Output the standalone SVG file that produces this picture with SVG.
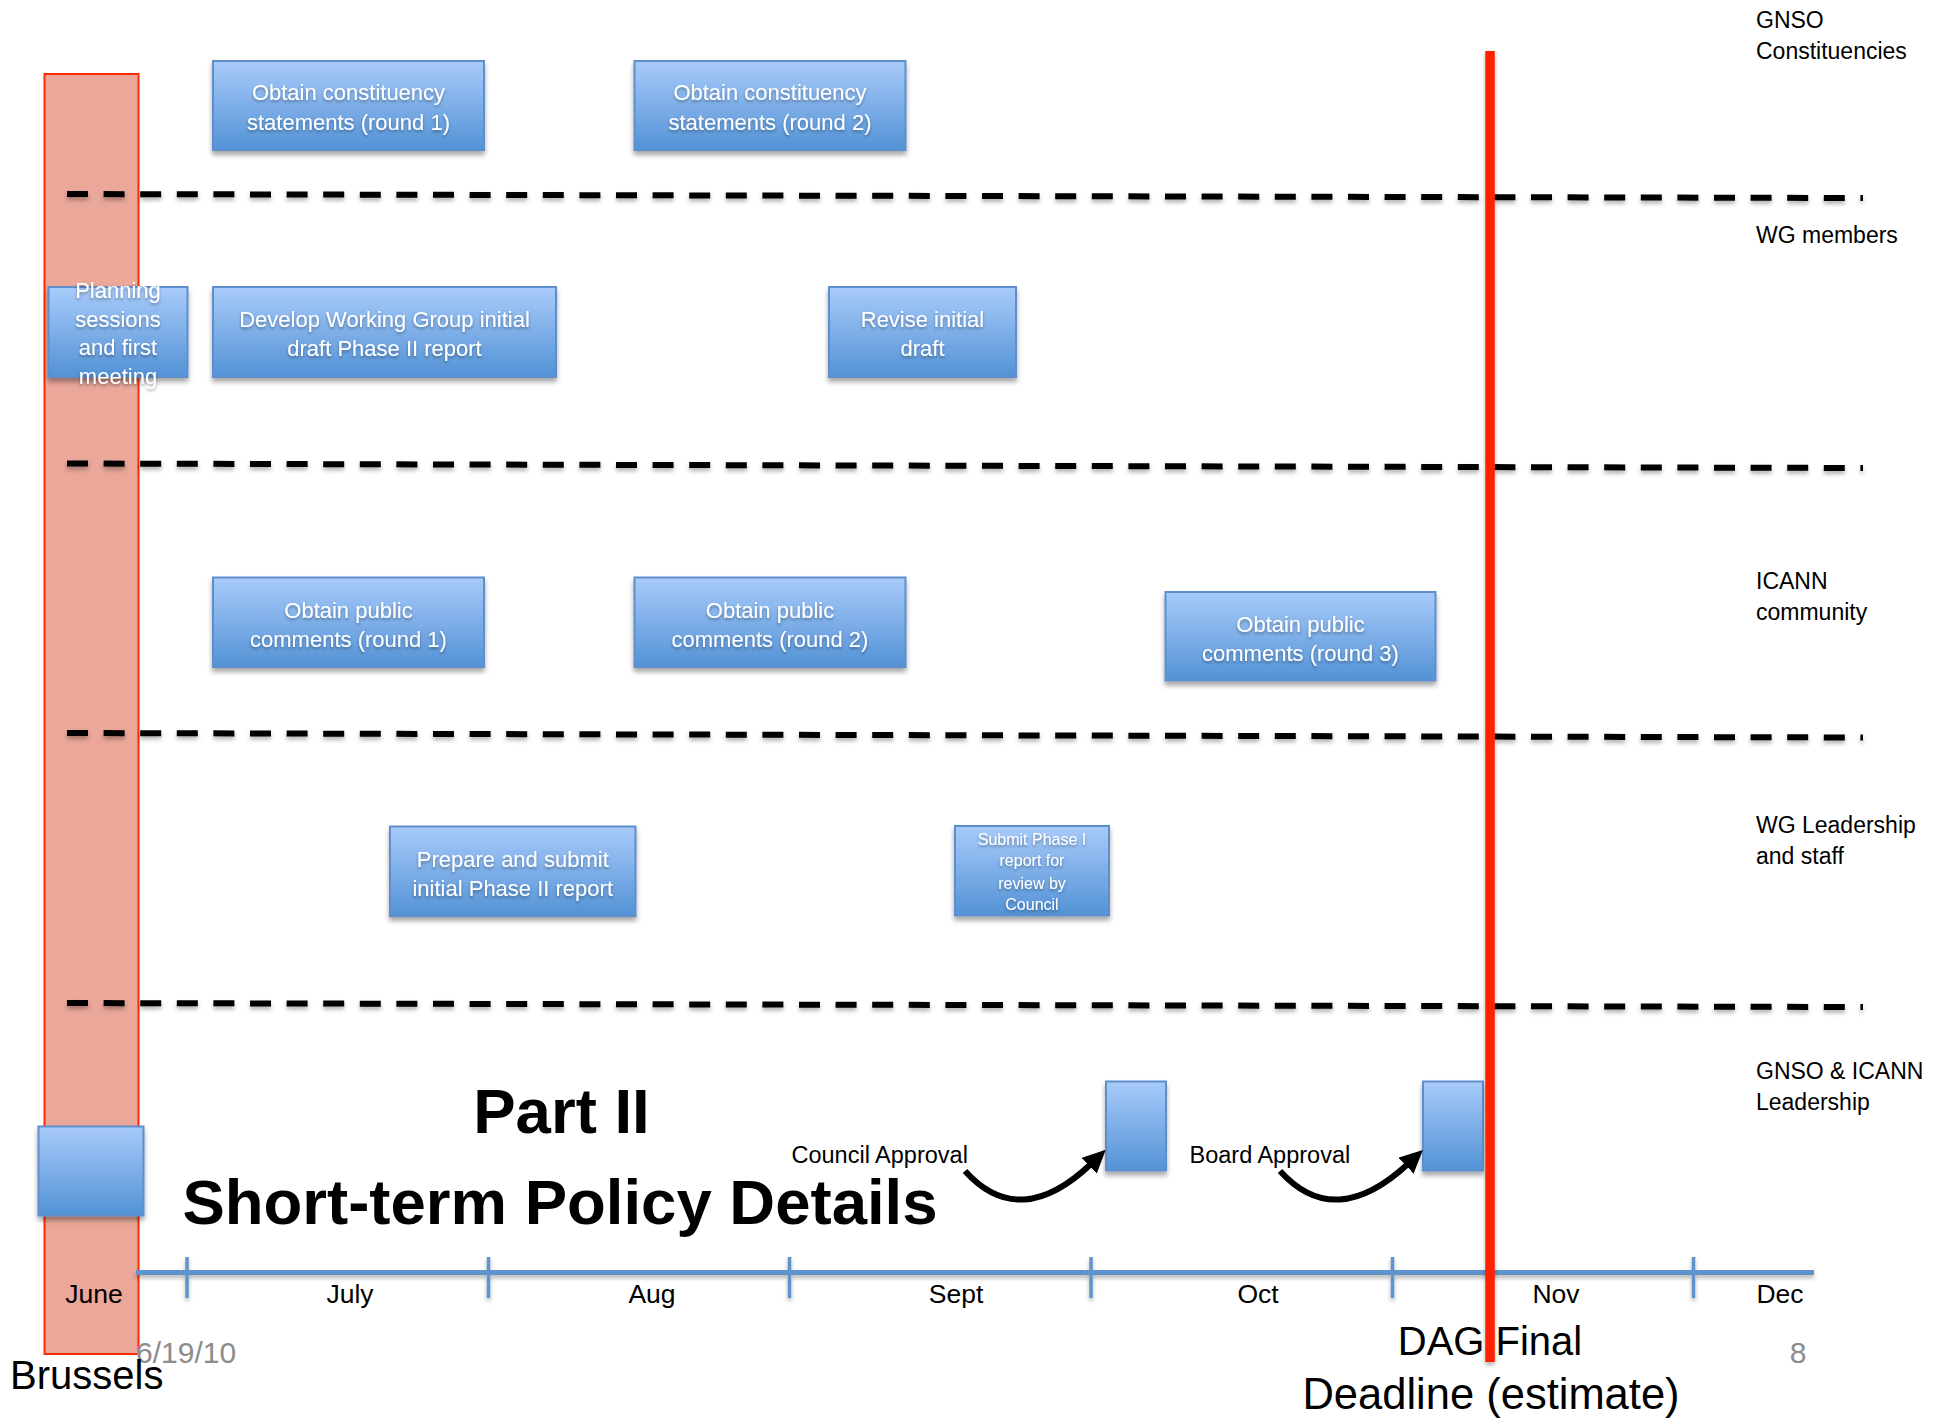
<svg xmlns="http://www.w3.org/2000/svg" width="1939" height="1422" viewBox="0 0 1939 1422">
<defs>
  <linearGradient id="boxGrad" x1="0" y1="0" x2="0" y2="1">
    <stop offset="0" stop-color="#A8CBFA"/>
    <stop offset="1" stop-color="#5392D6"/>
  </linearGradient>
  <filter id="shadow" x="-10%" y="-10%" width="120%" height="140%">
    <feDropShadow dx="0" dy="4" stdDeviation="2.5" flood-color="#000" flood-opacity="0.35"/>
  </filter>
  <filter id="lineShadow" filterUnits="userSpaceOnUse" x="0" y="0" width="1939" height="1422">
    <feDropShadow dx="0" dy="3" stdDeviation="2" flood-color="#000" flood-opacity="0.3"/>
  </filter>
  <filter id="textShadow" x="-10%" y="-20%" width="120%" height="160%">
    <feDropShadow dx="0" dy="2" stdDeviation="1.5" flood-color="#000" flood-opacity="0.35"/>
  </filter>
  <marker id="arrow" markerUnits="userSpaceOnUse" markerWidth="24" markerHeight="22" refX="4" refY="11" orient="auto">
    <path d="M0,0 L23,11 L0,22 z" fill="#000"/>
  </marker>
  <style>
    .box { fill: url(#boxGrad); stroke: #5E8FCB; stroke-width: 2; filter: url(#shadow); }
    .btxt { font-family: "Liberation Sans", Arial, sans-serif; font-size: 22px; fill: #FFFFFF; text-anchor: middle; filter: url(#textShadow); }
    .small { font-size: 16px; }
    .lane { font-family: "Liberation Sans", Arial, sans-serif; font-size: 23px; fill: #000; }
    .month { font-family: "Liberation Sans", Arial, sans-serif; font-size: 26.5px; fill: #000; text-anchor: middle; }
    .dash { stroke: #000; stroke-width: 6; stroke-dasharray: 21 15.6; fill: none; filter: url(#lineShadow); }
    .axis { stroke: #5F93CB; stroke-width: 5; fill: none; }
    .tick { stroke: #5F93CB; stroke-width: 3.5; }
    .title { font-family: "Liberation Sans", Arial, sans-serif; font-weight: bold; font-size: 63.5px; fill: #000; text-anchor: middle; }
    .appr { font-family: "Liberation Sans", Arial, sans-serif; font-size: 23.5px; fill: #000; }
    .curve { stroke: #000; stroke-width: 6; fill: none; marker-end: url(#arrow); }
    .foot { font-family: "Liberation Sans", Arial, sans-serif; font-size: 30px; fill: #8C8C8C; }
    .big { font-family: "Liberation Sans", Arial, sans-serif; font-size: 40px; fill: #000; text-anchor: middle; }
    .big2 { font-size: 43.5px; }
  </style>
</defs>
<rect width="1939" height="1422" fill="#FFFFFF"/>

<!-- Brussels column -->
<g id="brussels-column">
  <rect x="44.5" y="74" width="94" height="1280" fill="#EAA79A" stroke="#FF2A00" stroke-width="2"/>
</g>

<!-- lane separators -->
<g id="lanes">
  <line class="dash" x1="67" y1="194" x2="1863" y2="198"/>
  <line class="dash" x1="67" y1="463.5" x2="1863" y2="468"/>
  <line class="dash" x1="67" y1="733" x2="1863" y2="737.5"/>
  <line class="dash" x1="67" y1="1003" x2="1863" y2="1007"/>
</g>

<!-- lane labels -->
<g id="lane-labels">
  <text class="lane" x="1756" y="28">GNSO</text>
  <text class="lane" x="1756" y="59">Constituencies</text>
  <text class="lane" x="1756" y="243">WG members</text>
  <text class="lane" x="1756" y="589">ICANN</text>
  <text class="lane" x="1756" y="620">community</text>
  <text class="lane" x="1756" y="833">WG Leadership</text>
  <text class="lane" x="1756" y="864">and staff</text>
  <text class="lane" x="1756" y="1079">GNSO &amp; ICANN</text>
  <text class="lane" x="1756" y="1110">Leadership</text>
</g>

<!-- task nodes -->
<g id="n-constituency-1">
  <rect class="box" x="213" y="61" width="271" height="89"/>
  <text class="btxt" x="348.5" y="100">Obtain constituency</text>
  <text class="btxt" x="348.5" y="129.5">statements (round 1)</text>
</g>
<g id="n-constituency-2">
  <rect class="box" x="634.5" y="61" width="271" height="89"/>
  <text class="btxt" x="770" y="100">Obtain constituency</text>
  <text class="btxt" x="770" y="129.5">statements (round 2)</text>
</g>
<g id="n-planning">
  <rect class="box" x="48.5" y="287" width="139" height="90"/>
  <text class="btxt" x="118" y="298">Planning</text>
  <text class="btxt" x="118" y="326.5">sessions</text>
  <text class="btxt" x="118" y="355">and first</text>
  <text class="btxt" x="118" y="383.5">meeting</text>
</g>
<g id="n-develop">
  <rect class="box" x="213" y="287" width="343" height="90"/>
  <text class="btxt" x="384.5" y="327">Develop Working Group initial</text>
  <text class="btxt" x="384.5" y="356">draft Phase II report</text>
</g>
<g id="n-revise">
  <rect class="box" x="829" y="287" width="187" height="90"/>
  <text class="btxt" x="922.5" y="327">Revise initial</text>
  <text class="btxt" x="922.5" y="356">draft</text>
</g>
<g id="n-public-1">
  <rect class="box" x="213" y="577.5" width="271" height="89.5"/>
  <text class="btxt" x="348.5" y="617.5">Obtain public</text>
  <text class="btxt" x="348.5" y="646.5">comments (round 1)</text>
</g>
<g id="n-public-2">
  <rect class="box" x="634.5" y="577.5" width="271" height="89.5"/>
  <text class="btxt" x="770" y="617.5">Obtain public</text>
  <text class="btxt" x="770" y="646.5">comments (round 2)</text>
</g>
<g id="n-public-3">
  <rect class="box" x="1165.5" y="592" width="270" height="88.5"/>
  <text class="btxt" x="1300.5" y="632">Obtain public</text>
  <text class="btxt" x="1300.5" y="661">comments (round 3)</text>
</g>
<g id="n-prepare">
  <rect class="box" x="390" y="826.5" width="245.5" height="89.5"/>
  <text class="btxt" x="512.75" y="866.5">Prepare and submit</text>
  <text class="btxt" x="512.75" y="895.5">initial Phase II report</text>
</g>
<g id="n-submit">
  <rect class="box" x="955" y="826" width="154" height="89.5"/>
  <text class="btxt small" x="1032" y="845">Submit Phase I</text>
  <text class="btxt small" x="1032" y="866">report for</text>
  <text class="btxt small" x="1032" y="888.5">review by</text>
  <text class="btxt small" x="1032" y="910">Council</text>
</g>
<g id="n-june-box">
  <rect class="box" x="38.5" y="1126.5" width="105" height="89"/>
</g>
<g id="n-council-box">
  <rect class="box" x="1106" y="1081.5" width="60" height="89"/>
</g>
<g id="n-board-box">
  <rect class="box" x="1423" y="1081.5" width="60" height="89"/>
</g>

<!-- title -->
<g id="title">
  <text class="title" x="561.5" y="1133">Part II</text>
  <text class="title" x="560" y="1224">Short-term Policy Details</text>
</g>

<!-- connectors -->
<g id="connectors">
  <text class="appr" x="791.5" y="1163">Council Approval</text>
  <path class="curve" d="M 965,1171 Q 1020,1232 1092,1163"/>
  <text class="appr" x="1189.5" y="1163">Board Approval</text>
  <path class="curve" d="M 1280,1171 Q 1335,1232 1409,1163"/>
</g>

<!-- timeline axis -->
<g id="timeline" filter="url(#lineShadow)">
  <line class="axis" x1="136" y1="1272.5" x2="1814" y2="1272.5"/>
  <line class="tick" x1="187" y1="1257" x2="187" y2="1298"/>
  <line class="tick" x1="488.5" y1="1257" x2="488.5" y2="1298"/>
  <line class="tick" x1="789.5" y1="1257" x2="789.5" y2="1298"/>
  <line class="tick" x1="1091" y1="1257" x2="1091" y2="1298"/>
  <line class="tick" x1="1392.5" y1="1257" x2="1392.5" y2="1298"/>
  <line class="tick" x1="1693.5" y1="1257" x2="1693.5" y2="1298"/>
</g>
<g id="months">
  <text class="month" x="94" y="1303">June</text>
  <text class="month" x="350" y="1303">July</text>
  <text class="month" x="652" y="1303">Aug</text>
  <text class="month" x="956" y="1303">Sept</text>
  <text class="month" x="1258" y="1303">Oct</text>
  <text class="month" x="1556" y="1303">Nov</text>
  <text class="month" x="1780" y="1303">Dec</text>
</g>

<!-- footer -->
<g id="footer">
  <text class="foot" x="136" y="1363">6/19/10</text>
  <text class="foot" x="1798" y="1363" text-anchor="middle">8</text>
  <text x="10" y="1389" font-family="Liberation Sans, Arial, sans-serif" font-size="40" fill="#000">Brussels</text>
  <text class="big" x="1490" y="1355">DAG Final</text>
  <text class="big big2" x="1491" y="1409">Deadline (estimate)</text>
</g>

<!-- deadline line -->
<g id="deadline-line">
  <rect x="1485.25" y="51" width="9.5" height="1311" fill="#FF2200" filter="url(#lineShadow)"/>
</g>
</svg>
